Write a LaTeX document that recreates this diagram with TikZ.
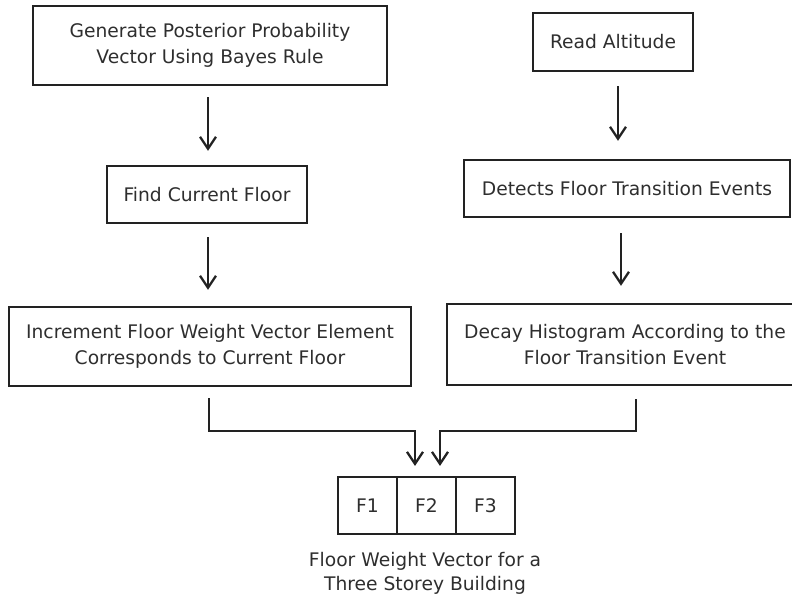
\documentclass[tikz,border=0pt]{standalone}
\usepackage{fontspec}
\setmainfont{DejaVu Sans}
\usetikzlibrary{arrows.meta}
\definecolor{ink}{HTML}{222222}
\definecolor{txt}{HTML}{2E2E2E}
\tikzset{
  stepbox/.style={draw=ink, line width=2.3pt, rectangle, inner sep=0pt,
    font=\fontsize{18.7}{26.5}\selectfont, text=txt, align=center},
  cell/.style={draw=ink, line width=2.1pt, rectangle, inner sep=0pt,
    minimum width=59pt, minimum height=57pt,
    font=\fontsize{18.7}{26}\selectfont, text=txt},
  arr/.style={draw=ink, line width=2.3pt,
    -{Straight Barb[length=12pt,width=16pt,line width=2.3pt]}},
}
\begin{document}
\begin{tikzpicture}[x=1pt,y=-1pt]
\useasboundingbox (0,0) rectangle (792,597);
\clip (0,0) rectangle (792,597);

% left column
\node[stepbox, minimum width=354pt, minimum height=79pt] (post) at (210,45.5)
  {Generate Posterior Probability\\Vector Using Bayes Rule};
\node[stepbox, minimum width=200pt, minimum height=57pt] (find) at (207,194.5)
  {Find Current Floor};
\node[stepbox, minimum width=402pt, minimum height=79pt] (incr) at (210,346.5)
  {Increment Floor Weight Vector Element\\Corresponds to Current Floor};

% right column
\node[stepbox, minimum width=160pt, minimum height=58pt] (alt) at (613,42)
  {Read Altitude};
\node[stepbox, minimum width=326pt, minimum height=57pt] (detect) at (627,188.5)
  {Detects Floor Transition Events};
\node[stepbox, minimum width=356pt, minimum height=81pt] (decay) at (625,344.5)
  {Decay Histogram According to the\\Floor Transition Event};

% floor weight vector
\node[cell] (f1) at (367.5,505.5) {F1};
\node[cell] (f2) at (426.5,505.5) {F2};
\node[cell] (f3) at (485.5,505.5) {F3};
\node[font=\fontsize{18.7}{24}\selectfont, text=txt, align=center] (cap) at (425,573)
  {Floor Weight Vector for a\\Three Storey Building};

% vertical flow arrows
\draw[arr, shorten <=11pt, shorten >=14pt]
  ([xshift=-2pt]post.south) -- ([xshift=-2pt]post.south |- find.north);
\draw[arr, shorten <=13pt, shorten >=16pt]
  ([xshift=1pt]find.south) -- ([xshift=1pt]find.south |- incr.north);
\draw[arr, shorten <=14pt, shorten >=18pt]
  ([xshift=5pt]alt.south) -- ([xshift=5pt]alt.south |- detect.north);
\draw[arr, shorten <=15pt, shorten >=17pt]
  ([xshift=-6pt]detect.south) -- ([xshift=-6pt]detect.south |- decay.north);

% merging connectors into the vector
\coordinate (inL) at ([xshift=-11.5pt,yshift=10pt]f2.north);
\coordinate (inR) at ([xshift=13.5pt,yshift=10pt]f2.north);
\draw[arr] ([xshift=-1pt,yshift=-11pt]incr.south) |- ([yshift=35pt]inL) -- (inL);
\draw[arr] ([xshift=11pt,yshift=-13pt]decay.south) |- ([yshift=35pt]inR) -- (inR);
\end{tikzpicture}
\end{document}
